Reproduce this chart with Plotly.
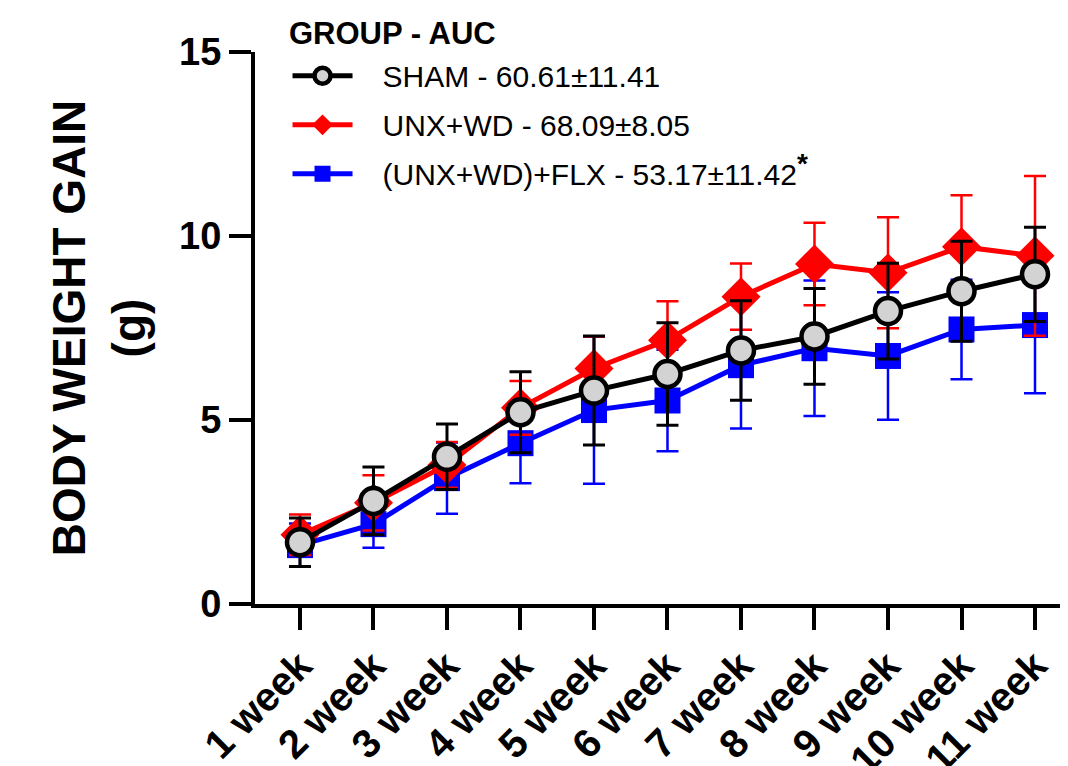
import plotly.graph_objects as go

weeks = ["1 week", "2 week", "3 week", "4 week", "5 week", "6 week",
         "7 week", "8 week", "9 week", "10 week", "11 week"]

sham_mean = [1.68, 2.80, 4.00, 5.21, 5.80, 6.25, 6.89, 7.27, 7.96, 8.50, 8.96]
sham_sd = [0.66, 0.92, 0.89, 1.10, 1.48, 1.39, 1.35, 1.30, 1.30, 1.36, 1.28]

unx_mean = [1.88, 2.75, 3.78, 5.33, 6.40, 7.17, 8.35, 9.24, 9.00, 9.71, 9.46]
unx_sd = [0.55, 0.75, 0.62, 0.73, 0.87, 1.06, 0.90, 1.12, 1.51, 1.40, 2.17]

flx_mean = [1.60, 2.17, 3.42, 4.37, 5.27, 5.53, 6.49, 6.95, 6.74, 7.46, 7.58]
flx_sd = [0.59, 0.64, 0.97, 1.09, 2.00, 1.38, 1.72, 1.84, 1.73, 1.35, 1.85]

legend_title = "GROUP - AUC"
PAD = "\u00a0\u00a0\u00a0"
names = [PAD + "SHAM - 60.61±11.41", PAD + "UNX+WD - 68.09±8.05",
         PAD + "(UNX+WD)+FLX - 53.17±11.42"
         "<sup><span style='font-size:28px;font-weight:bold'>*</span></sup>"]

FONT = "Liberation Sans, Arial, Helvetica, sans-serif"

fig = go.Figure()

fig.add_trace(go.Scatter(
    x=weeks, y=flx_mean, name=names[2], legendrank=3, legendgroup="c",
    mode="lines+markers",
    line=dict(color="#0000ff", width=5),
    marker=dict(symbol="square", size=26, color="#0000ff"),
    error_y=dict(type="data", array=flx_sd, visible=True, color="#0000ff",
                 thickness=2.5, width=11),
))
fig.add_trace(go.Scatter(
    x=weeks, y=unx_mean, name=names[1], legendrank=2, legendgroup="b",
    mode="lines+markers",
    line=dict(color="#ff0000", width=5),
    marker=dict(symbol="diamond", size=30, color="#ff0000"),
    error_y=dict(type="data", array=unx_sd, visible=True, color="#ff0000",
                 thickness=2.5, width=11),
))
fig.add_trace(go.Scatter(
    x=weeks, y=sham_mean, name=names[0], legendrank=1, legendgroup="a",
    mode="lines+markers",
    line=dict(color="#000000", width=5),
    marker=dict(symbol="circle", size=26, color="#d3d3d3",
                line=dict(color="#000000", width=4.5)),
    error_y=dict(type="data", array=sham_sd, visible=True, color="#000000",
                 thickness=3, width=11),
))

fig.add_annotation(
    text="<b>" + legend_title + "</b>", xref="paper", yref="paper",
    x=0.039, y=1.0344, xanchor="left", yanchor="middle", showarrow=False,
    font=dict(size=31, family=FONT, color="black"),
)

fig.update_layout(
    width=1068, height=766,
    margin=dict(l=247, r=8, t=44, b=170, autoexpand=False),
    paper_bgcolor="white", plot_bgcolor="white",
    font=dict(family=FONT, color="black"),
    showlegend=True,
    legend=dict(
        x=0.04, y=1.004, xanchor="left", yanchor="top",
        font=dict(size=30, family=FONT),
        bgcolor="rgba(0,0,0,0)",
        traceorder="grouped", tracegroupgap=7,
        itemwidth=60,
    ),
    xaxis=dict(
        type="category", range=[-0.612, 10.449], automargin=False,
        showline=True, linecolor="black", linewidth=4,
        ticks="outside", ticklen=22, tickwidth=4, tickcolor="black",
        tickangle=-45, showgrid=False, zeroline=False,
        ticklabelstandoff=-4,
        tickfont=dict(size=40, family=FONT, weight="bold"),
    ),
    yaxis=dict(
        range=[0, 15], tickvals=[0, 5, 10, 15], automargin=False,
        showline=True, linecolor="black", linewidth=4,
        ticks="outside", ticklen=22, tickwidth=4, tickcolor="black",
        showgrid=False, zeroline=False,
        tickfont=dict(size=38, family=FONT, weight="bold"),
        title=dict(text="<b>BODY WEIGHT GAIN<br>(g)</b>",
                   font=dict(size=46, family=FONT), standoff=20),
    ),
)

fig.write_html("out.html")
